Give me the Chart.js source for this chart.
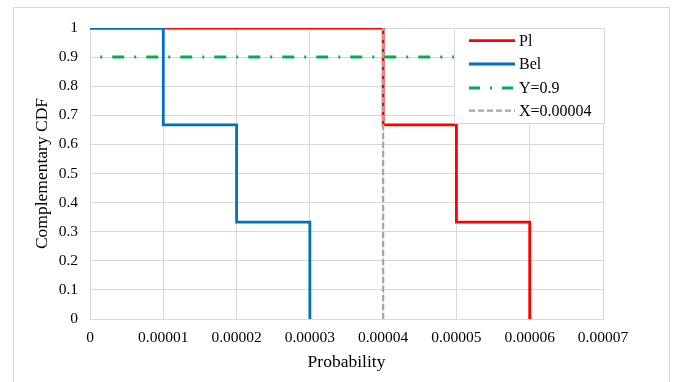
<!DOCTYPE html>
<html>
<head>
<meta charset="utf-8">
<title>Complementary CDF</title>
<script src="https://cdn.jsdelivr.net/npm/chart.js@4"></script>
<style>
  body { margin: 0; background: #ffffff; }
  #wrap { width: 676px; height: 382px; }
</style>
</head>
<body>
<div id="wrap"><canvas id="myChart" width="676" height="382"></canvas></div>
<script>
'use strict';
// data
var seriesNames = ['Pl', 'Bel', 'Y=0.9', 'X=0.00004'];
var plX = [0, 0.00004, 0.00004, 0.00005, 0.00005, 0.00006, 0.00006];
var plY = [1, 1, 0.667, 0.667, 0.333, 0.333, 0];
var belX = [0, 0.00001, 0.00001, 0.00002, 0.00002, 0.00003, 0.00003];
var belY = [1, 1, 0.667, 0.667, 0.333, 0.333, 0];
var yLineX = [0.0000014, 0.00007];
var yLineY = [0.9, 0.9];
var xLineX = [0.00004, 0.00004];
var xLineY = [0, 1];
var xTicks = [0, 0.00001, 0.00002, 0.00003, 0.00004, 0.00005, 0.00006, 0.00007];

var serif = "'Liberation Serif', 'Times New Roman', serif";

function toPoints(xs, ys) {
  var pts = [];
  for (var i = 0; i < xs.length; i++) {
    pts.push({x: xs[i], y: ys[i]});
  }
  return pts;
}

var colors = ['#ff0000', '#0070c0', '#00b050', '#a5a5a5'];
var dashes = [[], [], [2, 10, 12, 10], [6, 3]];
var widths = [2.8, 2.8, 3, 2.2];

// outer frame + legend box drawn inside the plot
var framePlugin = {
  id: 'frame',
  beforeDraw: function (chart) {
    var ctx = chart.ctx;
    ctx.save();
    ctx.fillStyle = '#ffffff';
    ctx.fillRect(0, 0, chart.width, chart.height);
    ctx.strokeStyle = '#d9d9d9';
    ctx.lineWidth = 1;
    ctx.strokeRect(13.5, 7.5, 656, 420);
    ctx.restore();
  },
  afterDatasetsDraw: function (chart) {
    var ctx = chart.ctx;
    var left = 454.5, top = 28.5, w = 150, h = 95;
    ctx.save();
    ctx.fillStyle = '#ffffff';
    ctx.fillRect(left, top, w, h);
    ctx.strokeStyle = '#d9d9d9';
    ctx.lineWidth = 1;
    ctx.strokeRect(left, top, w, h);
    ctx.font = '16px ' + serif;
    ctx.textBaseline = 'middle';
    ctx.fillStyle = '#000000';
    var rowY = [40.7, 64, 88, 110.7];
    for (var i = 0; i < seriesNames.length; i++) {
      ctx.beginPath();
      ctx.strokeStyle = colors[i];
      ctx.lineWidth = widths[i];
      ctx.setLineDash(i === 2 ? [11, 10, 2, 10] : dashes[i]);
      ctx.moveTo(469, rowY[i]);
      ctx.lineTo(515, rowY[i]);
      ctx.stroke();
      ctx.setLineDash([]);
      ctx.fillText(seriesNames[i], 519, rowY[i] + 1);
    }
    ctx.restore();
  }
};

var datasets = [
  {label: seriesNames[0], data: toPoints(plX, plY), order: 4},
  {label: seriesNames[1], data: toPoints(belX, belY), order: 3},
  {label: seriesNames[2], data: toPoints(yLineX, yLineY), order: 2},
  {label: seriesNames[3], data: toPoints(xLineX, xLineY), order: 1}
];
for (var i = 0; i < datasets.length; i++) {
  datasets[i].borderColor = colors[i];
  datasets[i].borderWidth = widths[i];
  datasets[i].borderDash = dashes[i];
  datasets[i].showLine = true;
  datasets[i].pointRadius = 0;
  datasets[i].fill = false;
  datasets[i].tension = 0;
  datasets[i].borderCapStyle = 'butt';
}

var ctx = document.getElementById('myChart').getContext('2d');
var chart = new Chart(ctx, {
  type: 'scatter',
  data: {datasets: datasets},
  plugins: [framePlugin],
  options: {
    responsive: false,
    animation: false,
    layout: {padding: {left: 32, right: 73, top: 28, bottom: 9}},
    plugins: {legend: {display: false}, tooltip: {enabled: false}},
    scales: {
      x: {
        type: 'linear',
        min: 0,
        max: 0.00007,
        afterBuildTicks: function (axis) {
          axis.ticks = xTicks.map(function (v) { return {value: v}; });
        },
        afterFit: function (axis) { axis.height = 54; },
        grid: {color: '#d9d9d9', drawTicks: false},
        border: {color: '#d9d9d9'},
        ticks: {
          padding: 10,
          color: '#000000',
          maxRotation: 0,
          font: {family: serif, size: 15.5},
          callback: function (value) { return value === 0 ? '0' : value.toFixed(5); }
        },
        title: {display: true, text: 'Probability', color: '#000000', padding: 0,
          font: {family: serif, size: 17.5}}
      },
      y: {
        min: 0,
        max: 1,
        afterFit: function (axis) { axis.width = 58; },
        grid: {color: '#d9d9d9', drawTicks: false},
        border: {color: '#d9d9d9'},
        ticks: {
          stepSize: 0.1,
          padding: 12,
          color: '#000000',
          font: {family: serif, size: 15.5},
          callback: function (value) { return String(Number(value.toFixed(1))); }
        },
        title: {display: true, text: 'Complementary CDF', color: '#000000', padding: 0,
          font: {family: serif, size: 17.5}}
      }
    }
  }
});
</script>
</body>
</html>
